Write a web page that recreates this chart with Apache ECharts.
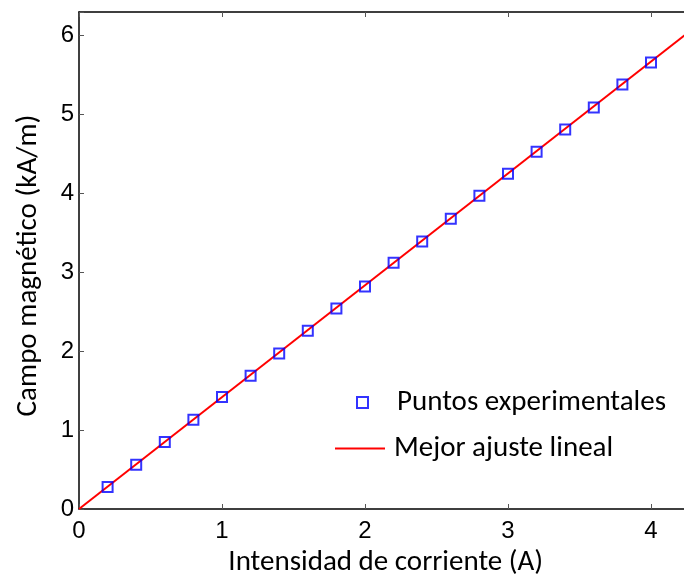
<!DOCTYPE html>
<html><head><meta charset="utf-8">
<script src="https://cdn.jsdelivr.net/npm/echarts@6/dist/echarts.min.js"></script>
<style>html,body{margin:0;padding:0;background:#fff}#c{width:684px;height:574px}</style>
</head><body><div id="c"></div>
<script>
var corriente = [0.2,0.4,0.6,0.8,1.0,1.2,1.4,1.6,1.8,2.0,2.2,2.4,2.6,2.8,3.0,3.2,3.4,3.6,3.8,4.0];
var campo = [0.28,0.56,0.85,1.13,1.42,1.69,1.97,2.26,2.54,2.82,3.12,3.39,3.68,3.97,4.25,4.53,4.81,5.09,5.38,5.66];
var ajusteX = [0, 4.5];
var ajusteY = [0, 6.38];
var xTicks = [0,1,2,3,4];
var yTicks = [0,1,2,3,4,5,6];

var chart = echarts.init(document.getElementById('c'));
var tickFont = {fontFamily:'Liberation Sans', fontSize:24, color:'#000'};
var titleFont = {fontFamily:'Carlito, Lato, sans-serif', fontSize:29, color:'#000'};
var axisCommon = {
  axisLine:{show:true, onZero:false, lineStyle:{color:'#000', width:1.5}},
  axisTick:{show:true, inside:true, length:5, lineStyle:{color:'#555', width:1}},
  splitLine:{show:false}
};
chart.setOption({
  animation:false,
  grid:{left:79, top:12, width:643.5, height:497, containLabel:false, outerBoundsMode:'none'},
  xAxis:[
    Object.assign({type:'value', min:0, max:4.5, interval:1, position:'bottom',
      name:'Intensidad de corriente (A)', nameLocation:'middle', nameGap:33,
      nameTextStyle:Object.assign({}, titleFont, {padding:[0,30,0,0]}),
      axisLabel:Object.assign({margin:10, formatter:function(v){return xTicks.indexOf(v)>=0?String(v):'';}}, tickFont)}, axisCommon),
    Object.assign({type:'value', min:0, max:4.5, interval:1, position:'top',
      axisLabel:{show:false}}, axisCommon)
  ],
  yAxis:[
    Object.assign({type:'value', min:0, max:6.3, interval:1, position:'left',
      name:'Campo magnético (kA/m)', nameLocation:'middle', nameGap:36,
      nameTextStyle:Object.assign({}, titleFont, {padding:[0,10,0,0]}),
      axisLabel:Object.assign({margin:5, formatter:function(v){return yTicks.indexOf(v)>=0?String(v):'';}}, tickFont)}, axisCommon)
  ],
  legend:[
    {data:['Puntos experimentales'], orient:'vertical', left:351, top:383,
     itemWidth:11, itemHeight:11, textStyle:Object.assign({}, titleFont, {padding:[0,0,0,24]})},
    {data:[{name:'Mejor ajuste lineal', icon:'rect'}], orient:'vertical', left:330, top:429,
     itemWidth:50, itemHeight:2, textStyle:Object.assign({}, titleFont, {padding:[0,0,0,4]})}
  ],
  series:[
    {name:'Mejor ajuste lineal', type:'line', data:ajusteX.map(function(x,i){return [x, ajusteY[i]];}),
     showSymbol:false, lineStyle:{color:'#ff0000', width:2}, itemStyle:{color:'#ff0000'}, clip:true, z:2},
    {name:'Puntos experimentales', type:'scatter', data:corriente.map(function(x,i){return [x, campo[i]];}),
     symbol:'rect', symbolSize:10,
     itemStyle:{color:'rgba(0,0,0,0)', borderColor:'#0000ff', borderWidth:2}, z:3}
  ]
});
</script></body></html>
